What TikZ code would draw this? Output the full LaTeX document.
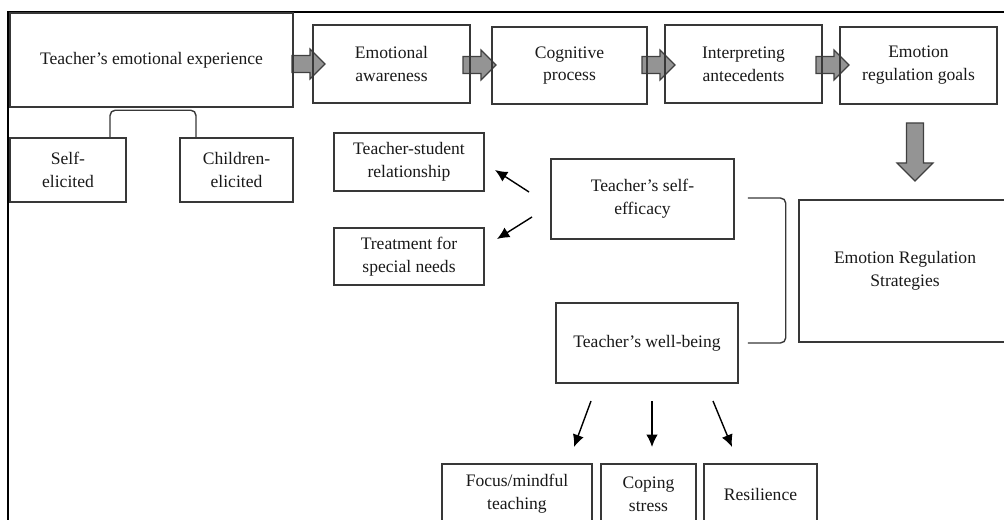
\documentclass[tikz,border=0pt]{standalone}
\usepackage{fontspec}
\setmainfont{Liberation Serif}
\usetikzlibrary{arrows.meta,calc,backgrounds}

\tikzset{
  box/.style={draw=black!78, line width=0.9pt, align=center, inner sep=2pt,
    text=black!90, font=\fontsize{10}{13}\selectfont},
  blockfill/.style={draw=black!75, fill=black!42, line width=0.7pt, line join=miter},
  fatarrow/.pic={
    \draw[blockfill] (0,-8.5) -- (18,-8.5) -- (18,-15) -- (33,0) -- (18,15)
        -- (18,8.5) -- (0,8.5) -- cycle;
  },
  pointer/.style={-{Latex[length=7pt,width=6.5pt]}, line width=0.8pt}
}

\begin{document}
\begin{tikzpicture}[x=0.02cm, y=-0.02cm]
    \useasboundingbox (0,0) rectangle (1004,520);
    % outer frame
    \draw[line width=1.3pt] (8,520) -- (8,12) -- (1004,12);

    % process row
    \node[box, minimum width=5.66cm, minimum height=1.88cm] (exp) at (151.5,60) {Teacher’s emotional experience};
    \node[box, minimum width=3.14cm, minimum height=1.56cm] (aware) at (391.5,64) {Emotional\\awareness};
    \node[box, minimum width=3.10cm, minimum height=1.54cm] (cog) at (569.5,65.5) {Cognitive\\process};
    \node[box, minimum width=3.14cm, minimum height=1.56cm] (interp) at (743.5,64) {Interpreting\\antecedents};
    \node[box, minimum width=3.14cm, minimum height=1.54cm] (goals) at (918.5,65.5) {Emotion\\regulation goals};

    % sources
    \node[box, minimum width=2.32cm, minimum height=1.28cm] (self) at (68,170) {Self-\\elicited};
    \node[box, minimum width=2.26cm, minimum height=1.28cm] (child) at (236.5,170) {Children-\\elicited};

    % middle part
    \node[box, minimum width=3.00cm, minimum height=1.16cm] (tsr) at (409,162) {Teacher-student\\relationship};
    \node[box, minimum width=3.00cm, minimum height=1.14cm] (tsn) at (409,256.5) {Treatment for\\special needs};
    \node[box, minimum width=3.66cm, minimum height=1.60cm] (eff) at (642.5,199) {Teacher’s self-\\efficacy};
    \node[box, minimum width=3.64cm, minimum height=1.60cm] (well) at (647,343) {Teacher’s well-being};
    \node[box, minimum width=4.24cm, minimum height=2.84cm] (ers) at (905,271) {Emotion Regulation\\Strategies};

    % outcomes
    \node[box, minimum width=3.00cm, minimum height=1.20cm] (focus) at (517,494) {Focus/mindful\\teaching};
    \node[box, minimum width=1.90cm, minimum height=1.20cm] (coping) at (648.5,494) {Coping\\stress};
    \node[box, minimum width=2.26cm, minimum height=1.20cm] (resil) at (760.5,494) {Resilience};

    % block arrows
    \begin{scope}[on background layer]
        \pic at (292,64) {fatarrow};
        \pic at (463,65) {fatarrow};
        \pic at (642,65) {fatarrow};
        \pic at (816,65) {fatarrow};
        \draw[blockfill] (906.5,123) -- (923.5,123) -- (923.5,163) -- (933,163) -- (915,181)
            -- (897,163) -- (906.5,163) -- cycle;
    \end{scope}

    % brackets
    \draw[black!78, line width=0.8pt, rounded corners=3pt]
        ($(self.north)+(42,0)$) |- ($(child.north)+(-40.5,-27)$) -- ($(child.north)+(-40.5,0)$);
    \draw[black!78, line width=0.8pt, rounded corners=3pt]
        ($(eff.east)+(13,-1)$) -| ($(well.east)+(47,0)$) -- ($(well.east)+(9,0)$);

    % pointers
    \coordinate (p1) at (529,192);
    \coordinate (p1e) at (495,170);
    \coordinate (p2) at (532,217);
    \coordinate (p2e) at (497,239);
    \coordinate (q1) at (591,401);
    \coordinate (q1e) at (574,447);
    \coordinate (q2) at (652,401);
    \coordinate (q2e) at (652,447);
    \coordinate (q3) at (713,401);
    \coordinate (q3e) at (732,447);
    \draw[pointer] (p1) -- (p1e);
    \draw[pointer] (p2) -- (p2e);
    \draw[pointer] (q1) -- (q1e);
    \draw[pointer] (q2) -- (q2e);
    \draw[pointer] (q3) -- (q3e);
\end{tikzpicture}
\end{document}
